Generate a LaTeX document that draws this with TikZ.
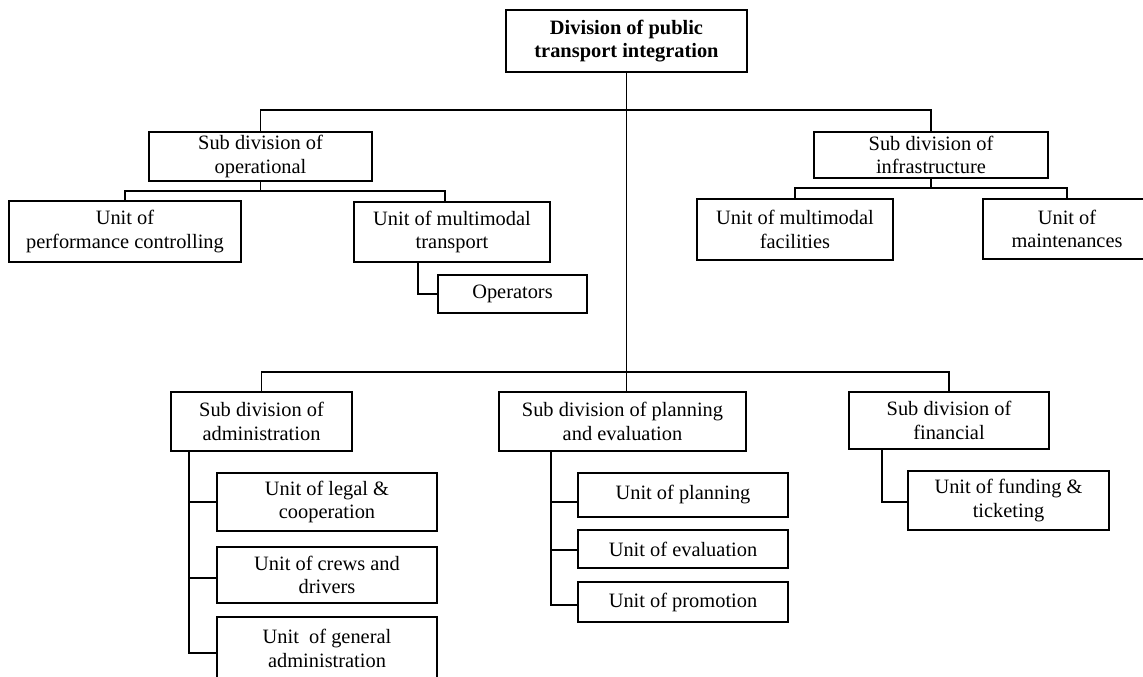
\documentclass[tikz,border=0pt]{standalone}
\usepackage{fontspec}
\setmainfont{Liberation Serif}
\begin{document}
\begin{tikzpicture}[x=1pt,y=-1pt,
  box/.style={draw, line width=1.5pt, inner sep=0pt, align=center,
    font=\fontsize{20.4}{23.3}\selectfont},
  link/.style={line width=1.5pt}]
\useasboundingbox (0,0) rectangle (1143,677);

% head of the division
\node[box, minimum width=241, minimum height=62, font=\fontsize{20.4}{23.3}\selectfont\bfseries]
  (top) at (626.5,41) {Division of public\\transport integration};

% upper sub divisions and their units
\node[box, minimum width=223, minimum height=49] (op)  at (260.5,156.5) {Sub division of\\operational};
\node[box, minimum width=232, minimum height=61] (perf) at (125,231.5) {Unit of\\performance controlling};
\node[box, minimum width=196, minimum height=60] (mmt) at (452,232) {Unit of multimodal\\transport};
\node[box, minimum width=149, minimum height=38] (opr) at (512.5,294) {Operators};

\node[box, minimum width=234, minimum height=46] (inf) at (931,155) {Sub division of\\infrastructure};
\node[box, minimum width=196, minimum height=61] (fac) at (795,229.5) {Unit of multimodal\\facilities};
\node[box, minimum width=168, minimum height=60] (mnt) at (1067,229) {Unit of\\maintenances};

% lower sub divisions and their units
\node[box, minimum width=181, minimum height=59] (adm) at (261.5,421.5) {Sub division of\\administration};
\node[box, minimum width=220, minimum height=58] (leg) at (327,502) {Unit of legal \&\\cooperation};
\node[box, minimum width=220, minimum height=56] (crw) at (327,575) {Unit of crews and\\drivers};
\node[box, minimum width=220, minimum height=63] (gen) at (327,648.5) {Unit\ \ of general\\administration};

\node[box, minimum width=247, minimum height=59] (pln) at (622.5,421.5) {Sub division of planning\\and evaluation};
\node[box, minimum width=210, minimum height=44] (upl) at (683,495) {Unit of planning};
\node[box, minimum width=210, minimum height=38] (uev) at (683,549) {Unit of evaluation};
\node[box, minimum width=210, minimum height=40] (upr) at (683,602) {Unit of promotion};

\node[box, minimum width=200, minimum height=57] (fin) at (949,420.5) {Sub division of\\financial};
\node[box, minimum width=201, minimum height=59] (fnd) at (1008.5,500.5) {Unit of funding \&\\ticketing};

% junction points of the tree
\coordinate (j1) at (626.5,110);
\coordinate (j2) at (260.5,191);
\coordinate (j3) at (931,188);
\coordinate (j4) at (626.5,372);

% main trunk
\draw[link] (top.south) -- (top.south |- pln.north);

% upper branch
\draw[link] (op.north) |- (j1) -| (inf.north);
\draw[link] (op.south) -- (j2);
\draw[link] (perf.north) |- (j2) -| ([xshift=-7pt]mmt.north);
\draw[link] ([xshift=-34pt]mmt.south) |- (opr.west);
\draw[link] (inf.south) -- (j3);
\draw[link] (fac.north) |- (j3) -| (mnt.north);

% lower branch
\draw[link] (adm.north) |- (j4) -| (fin.north);

\coordinate (aT) at ([xshift=-72.5pt]adm.south);
\draw[link] (aT) |- ([yshift=-4.5pt]gen.west);
\draw[link] (leg.west) -- (leg.west -| aT);
\draw[link] ([yshift=-3pt]crw.west) -- ([yshift=-3pt]crw.west -| aT);

\coordinate (pT) at ([xshift=-71.5pt]pln.south);
\draw[link] (pT) |- ([yshift=-3pt]upr.west);
\draw[link] ([yshift=-7pt]upl.west) -- ([yshift=-7pt]upl.west -| pT);
\draw[link] ([yshift=-1pt]uev.west) -- ([yshift=-1pt]uev.west -| pT);

\draw[link] ([xshift=-67pt]fin.south) |- ([yshift=-1.5pt]fnd.west);
\end{tikzpicture}
\end{document}
